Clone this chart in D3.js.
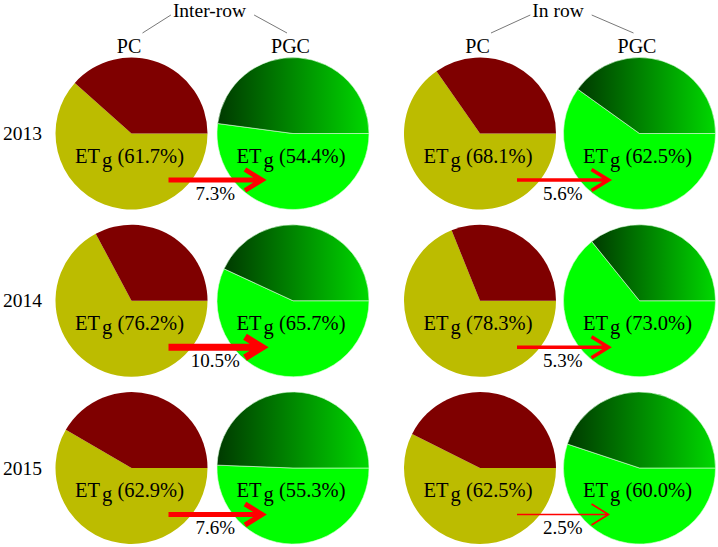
<!DOCTYPE html>
<html>
<head>
<meta charset="utf-8">
<script src="https://cdn.jsdelivr.net/npm/d3@7"></script>
<style>
  html, body { margin: 0; padding: 0; background: #fff; }
  svg { display: block; }
  text { font-family: "Liberation Serif", "Times New Roman", serif; fill: #000; }
</style>
</head>
<body>
<svg id="chart" width="718" height="547" font-family="Liberation Serif, Times New Roman, serif"></svg>
<script>
// ---------------- data ----------------
const years = ["2013", "2014", "2015"];
const groups = ["Inter-row", "In row"];
const treatments = ["PC", "PGC"];

// ETg percentages printed in each pie
const interPC  = [61.7, 76.2, 62.9];
const interPGC = [54.4, 65.7, 55.3];
const inPC     = [68.1, 78.3, 62.5];
const inPGC    = [62.5, 73.0, 60.0];

// share (% of circle) of the ETg wedge as drawn
const interPCSlice  = [61.6, 67.2, 58.4];
const interPGCSlice = [52.1, 56.9, 50.6];
const inPCSlice     = [65.3, 68.9, 57.4];
const inPGCSlice    = [59.9, 64.2, 55.1];

// reduction shown on the arrows (PC -> PGC)
const interChange = [7.3, 10.5, 7.6];
const inChange    = [5.6, 5.3, 2.5];

// ---------------- layout ----------------
const W = 718, H = 547, R = 76;
const svg = d3.select("#chart");
const FONT = "'Liberation Serif', 'Times New Roman', serif";

const colKeys = ["inter-PC", "inter-PGC", "in-PC", "in-PGC"];
const x = d3.scaleOrdinal().domain(colKeys).range([131.5, 293, 480, 639.5]);
const y = d3.scalePoint().domain(years).range([133.5, 468]);
const arrowW = d3.scaleLinear().domain([0, 10.5]).range([0, 7]);

const cells = [];
years.forEach((yr, i) => {
  cells.push({ col: "inter-PC",  type: "PC",  year: yr, label: interPC[i],  slice: interPCSlice[i] });
  cells.push({ col: "inter-PGC", type: "PGC", year: yr, label: interPGC[i], slice: interPGCSlice[i] });
  cells.push({ col: "in-PC",     type: "PC",  year: yr, label: inPC[i],     slice: inPCSlice[i] });
  cells.push({ col: "in-PGC",    type: "PGC", year: yr, label: inPGC[i],    slice: inPGCSlice[i] });
});

// gradient for the PGC remainder wedge
const defs = svg.append("defs");
const grad = defs.append("linearGradient").attr("id", "pgcGrad")
  .attr("x1", 0).attr("y1", 0).attr("x2", 1).attr("y2", 0);
grad.append("stop").attr("offset", 0).attr("stop-color", "#003a00");
grad.append("stop").attr("offset", 1).attr("stop-color", "#00d800");

const pie = d3.pie().sort(null).value(d => d.v)
  .startAngle(Math.PI / 2).endAngle(Math.PI / 2 + 2 * Math.PI);
const arc = d3.arc().innerRadius(0).outerRadius(R);

const colors = {
  PC:  { etg: "#bcbc00", rest: "#7f0000" },
  PGC: { etg: "#00ff00", rest: "url(#pgcGrad)" }
};

const pies = svg.append("g").selectAll("g.pie").data(cells).join("g")
  .attr("class", "pie")
  .attr("transform", d => `translate(${x(d.col)},${y(d.year)})`);

pies.selectAll("path")
  .data(d => pie([{ k: "etg", v: d.slice, t: d.type }, { k: "rest", v: 100 - d.slice, t: d.type }]))
  .join("path")
  .attr("d", arc)
  .attr("fill", d => colors[d.data.t][d.data.k])
  .attr("stroke", d => d.data.t === "PGC" ? "#d8ffd8" : "none")
  .attr("stroke-width", d => d.data.t === "PGC" ? 0.6 : 0);

// ETg labels
const etLab = pies.append("text")
  .attr("x", -2).attr("y", 29)
  .attr("text-anchor", "middle")
  .attr("font-family", FONT)
  .attr("font-size", 20.5);
etLab.append("tspan").text("ET");
etLab.append("tspan").attr("dx", 2).attr("dy", 4).text("g");
etLab.append("tspan").attr("dy", -4).text(d => " (" + d3.format(".1f")(d.label) + "%)");

// arrows
const arrows = [];
years.forEach((yr, i) => {
  arrows.push({ from: "inter-PC", to: "inter-PGC", year: yr, v: interChange[i] });
  arrows.push({ from: "in-PC", to: "in-PGC", year: yr, v: inChange[i] });
});
const ag = svg.append("g").selectAll("g").data(arrows).join("g");
ag.append("path")
  .attr("d", d => {
    const x0 = x(d.from) + 37, x1 = x(d.to) - 31, yy = y(d.year) + 46.5;
    return `M${x0},${yy}H${x1}M${x1 - 17},${yy - 10.5}L${x1},${yy}L${x1 - 17},${yy + 10.5}`;
  })
  .attr("fill", "none")
  .attr("stroke", "#ff0000")
  .attr("stroke-width", d => arrowW(d.v))
  .attr("stroke-linejoin", "miter")
  .attr("stroke-linecap", "butt");
ag.append("text")
  .attr("x", d => (x(d.from) + 37 + x(d.to) - 31) / 2)
  .attr("y", d => y(d.year) + 66)
  .attr("text-anchor", "middle")
  .attr("font-family", FONT)
  .attr("font-size", 19)
  .text(d => d3.format(".1f")(d.v) + "%");

// year labels
svg.append("g").selectAll("text").data(years).join("text")
  .attr("x", 3).attr("y", d => y(d) + 6.5)
  .attr("font-family", FONT)
  .attr("font-size", 19.5)
  .text(d => d);

// column headers
const headerCols = [
  { key: "inter-PC", t: treatments[0] }, { key: "inter-PGC", t: treatments[1] },
  { key: "in-PC", t: treatments[0] }, { key: "in-PGC", t: treatments[1] }
];
svg.append("g").selectAll("text").data(headerCols).join("text")
  .attr("x", d => x(d.key) - 2.5).attr("y", 53)
  .attr("text-anchor", "middle")
  .attr("font-family", FONT)
  .attr("font-size", 20)
  .text(d => d.t);

// group titles with connector lines
const groupDefs = [
  { name: groups[0], pc: "inter-PC", pgc: "inter-PGC", cx: 209.5 },
  { name: groups[1], pc: "in-PC", pgc: "in-PGC", cx: 558 }
];
groupDefs.forEach(g => {
  const t = svg.append("text")
    .attr("x", g.cx).attr("y", 17)
    .attr("text-anchor", "middle")
    .attr("font-family", FONT)
    .attr("font-size", 19.5)
    .text(g.name);
  const w = t.node().getComputedTextLength();
  svg.append("line")
    .attr("x1", x(g.pc) + 11).attr("y1", 33)
    .attr("x2", g.cx - w / 2 - 2).attr("y2", 15)
    .attr("stroke", "#555").attr("stroke-width", 0.8);
  svg.append("line")
    .attr("x1", g.cx + w / 2 + 8).attr("y1", 15)
    .attr("x2", x(g.pgc) - 6).attr("y2", 33)
    .attr("stroke", "#555").attr("stroke-width", 0.8);
});
</script>
</body>
</html>
